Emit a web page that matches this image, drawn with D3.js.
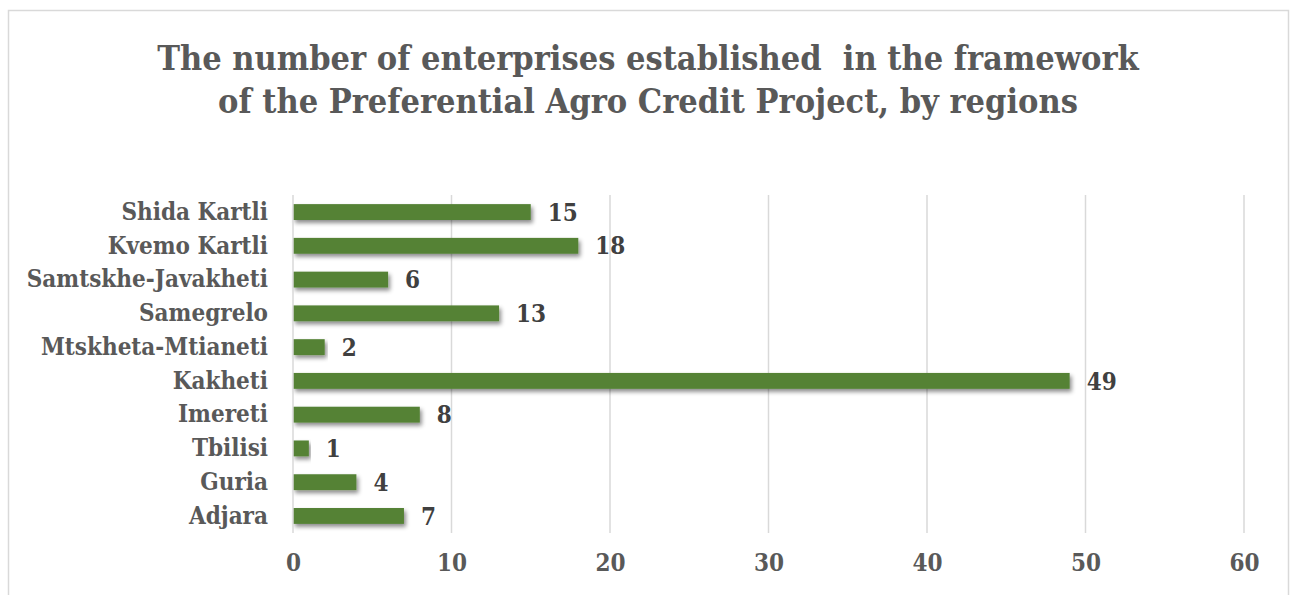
<!DOCTYPE html>
<html>
<head>
<meta charset="utf-8">
<script src="https://cdn.jsdelivr.net/npm/d3@7"></script>
<style>
  html, body { margin: 0; padding: 0; background: #fff; }
  svg { display: block; }
  text { font-family: "DejaVu Serif Condensed", "DejaVu Serif", serif; font-weight: bold; }
</style>
</head>
<body>
<svg id="chart" width="1291" height="595"></svg>
<script>
// Regions, listed top to bottom as they appear on the chart
const regions = ["Shida Kartli", "Kvemo Kartli", "Samtskhe-Javakheti", "Samegrelo",
  "Mtskheta-Mtianeti", "Kakheti", "Imereti", "Tbilisi", "Guria", "Adjara"];
// Number of enterprises per region
const enterprises = [15, 18, 6, 13, 2, 49, 8, 1, 4, 7];
// X axis ticks
const xTicks = [0, 10, 20, 30, 40, 50, 60];
const titleLines = [
  "The number of enterprises established  in the framework",
  "of the Preferential Agro Credit Project, by regions"
];

const W = 1291, H = 595;
const margin = { left: 293, right: 47, top: 195, bottom: 62 };
const svg = d3.select("#chart");

// Chart frame
svg.append("rect")
  .attr("x", 8.5).attr("y", 10.5)
  .attr("width", 1280).attr("height", H)
  .attr("fill", "#fff").attr("stroke", "#d9d9d9").attr("stroke-width", 1.5);

// Title
svg.append("g").selectAll("text").data(titleLines).join("text")
  .attr("x", 648).attr("y", (d, i) => 70 + i * 43)
  .attr("text-anchor", "middle")
  .attr("fill", "#595959")
  .style("font-size", "34px")
  .style("white-space", "pre")
  .text(d => d);

const x = d3.scaleLinear().domain([0, 60]).range([margin.left, W - margin.right]);
const y = d3.scaleBand().domain(regions).range([margin.top, H - margin.bottom]).paddingInner(0.53).paddingOuter(0.27);

// Vertical gridlines
svg.append("g").selectAll("line").data(xTicks.slice(1)).join("line")
  .attr("x1", d => x(d)).attr("x2", d => x(d))
  .attr("y1", margin.top).attr("y2", H - margin.bottom)
  .attr("stroke", "#d9d9d9").attr("stroke-width", 1.5);

// Drop shadow for the bars
const defs = svg.append("defs");
const f = defs.append("filter").attr("id", "shadow")
  .attr("x", "-5%").attr("y", "-50%").attr("width", "115%").attr("height", "220%");
f.append("feDropShadow").attr("dx", 2).attr("dy", 3).attr("stdDeviation", 2)
  .attr("flood-color", "#000").attr("flood-opacity", 0.45);

const data = regions.map((r, i) => ({ region: r, value: enterprises[i] }));

// Bars
svg.append("g").selectAll("rect").data(data).join("rect")
  .attr("x", x(0))
  .attr("y", d => y(d.region))
  .attr("width", d => x(d.value) - x(0))
  .attr("height", y.bandwidth())
  .attr("fill", "#548235")
  .attr("filter", "url(#shadow)");

// Value axis line at zero
svg.append("line")
  .attr("x1", x(0)).attr("x2", x(0))
  .attr("y1", margin.top).attr("y2", H - margin.bottom)
  .attr("stroke", "#d9d9d9").attr("stroke-width", 1.5);

// Value labels
svg.append("g").selectAll("text").data(data).join("text")
  .attr("x", d => x(d.value) + 17)
  .attr("y", d => y(d.region) + y.bandwidth() / 2)
  .attr("dy", "0.36em")
  .attr("fill", "#404040")
  .style("font-size", "24px")
  .text(d => d.value);

// Category axis
const yAxis = svg.append("g")
  .attr("transform", `translate(${x(0)},0)`)
  .call(d3.axisLeft(y).tickSize(0).tickPadding(25));
yAxis.select(".domain").remove();
yAxis.selectAll("text")
  .attr("fill", "#595959")
  .style("font-family", "'DejaVu Serif Condensed', 'DejaVu Serif', serif")
  .style("font-size", "24px");

// X axis
const xAxis = svg.append("g")
  .attr("transform", `translate(0,${H - margin.bottom})`)
  .call(d3.axisBottom(x).tickValues(xTicks).tickSize(0).tickPadding(21).tickFormat(d3.format("d")));
xAxis.select(".domain").remove();
xAxis.selectAll("text")
  .attr("fill", "#595959")
  .style("font-family", "'DejaVu Serif Condensed', 'DejaVu Serif', serif")
  .style("font-size", "24px");
</script>
</body>
</html>
